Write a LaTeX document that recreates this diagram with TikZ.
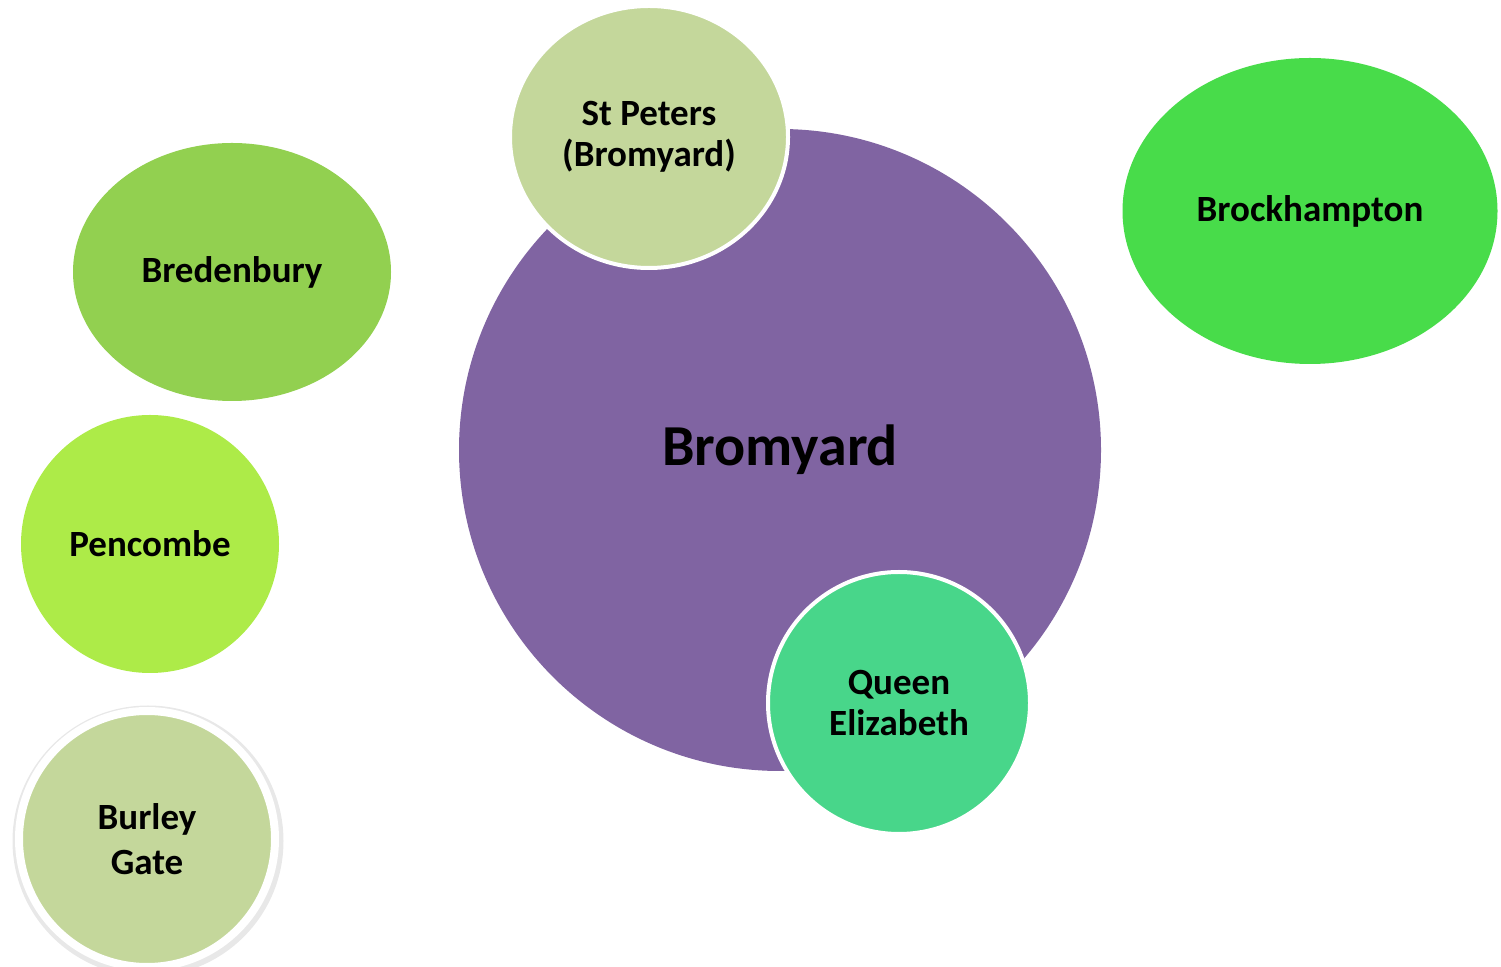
\documentclass[tikz,border=0pt]{standalone}
\usepackage{fontspec}
\setmainfont{Carlito}
\usetikzlibrary{shadows.blur,shapes.geometric}
\definecolor{purp}{HTML}{8064A2}
\definecolor{sage}{HTML}{C4D79B}
\definecolor{qe}{HTML}{48D68A}
\definecolor{brock}{HTML}{48DC4A}
\definecolor{bred}{HTML}{92D050}
\definecolor{penc}{HTML}{ADEB48}
\tikzset{
  bubble/.style={inner sep=0pt, align=center, text=black},
  lbl/.style={font=\bfseries\fontsize{37}{41}\selectfont},
}
\begin{document}
\begin{tikzpicture}[x=1pt,y=1pt]
\useasboundingbox (0,0) rectangle (1501,966);
% main circle
\node[bubble, circle, fill=purp, minimum size=642pt, font=\bfseries\fontsize{58}{64}\selectfont] (brom) at (780,516) {Bromyard};
% St Peters
\node[bubble, lbl, ellipse, fill=sage, draw=white, line width=4pt, minimum width=278pt, minimum height=262pt] (stp) at (649,829) {St Peters\\(Bromyard)};
% Queen Elizabeth
\node[bubble, lbl, circle, fill=qe, draw=white, line width=4pt, minimum size=262pt] (qe) at (899,263) {Queen\\Elizabeth};
% Brockhampton
\node[bubble, lbl, ellipse, fill=brock, minimum width=375pt, minimum height=306pt] (bro) at (1310,755) {Brockhampton};
% Bredenbury
\node[bubble, lbl, ellipse, fill=bred, minimum width=318pt, minimum height=258pt] (bre) at (232,694) {Bredenbury};
% Pencombe
\node[bubble, lbl, circle, fill=penc, minimum size=258pt] (pen) at (150,422) {Pencombe};
% Burley Gate (with soft outer shadow ring)
\coordinate (burc) at (147,127);
\fill[gray!18] ([xshift=1pt,yshift=-2pt]burc) circle (135.5pt);
\node[bubble, circle, fill=sage, draw=white, line width=8pt, minimum size=256pt, font=\bfseries\fontsize{37}{45}\selectfont] (bur) at (burc) {Burley\\Gate};
\end{tikzpicture}
\end{document}
